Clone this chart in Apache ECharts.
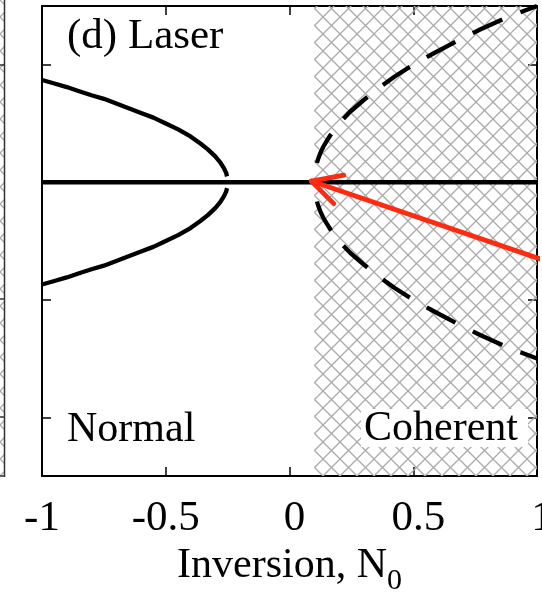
<!DOCTYPE html>
<html><head><meta charset="utf-8">
<script src="https://cdn.jsdelivr.net/npm/echarts@6/dist/echarts.min.js"></script>
<style>html,body{margin:0;padding:0;background:#fff;overflow:hidden}#c{width:542px;height:593px}</style>
</head><body><div id="c"></div>
<script>
// ---- data ----
const xTickValues = [-1, -0.5, 0, 0.5, 1];
const yTickValues = [-2, -1, 0, 1];
const coherentStart = 0.1;          // start of hatched (coherent) region on N0
const baseline = [[-1, 0], [1, 0]];
const normalUpper = [[-1,0.87],[-0.95,0.84],[-0.9,0.81],[-0.85,0.775],[-0.8,0.74],[-0.75,0.71],[-0.7,0.67],[-0.65,0.63],[-0.6,0.59],[-0.55,0.55],[-0.5,0.50],[-0.45,0.45],[-0.4,0.39],[-0.36,0.33],[-0.33,0.28],[-0.3,0.22],[-0.28,0.17],[-0.265,0.12],[-0.256,0.08],[-0.2525,0.05]];
const normalLower = [[-1,-0.87],[-0.95,-0.84],[-0.9,-0.81],[-0.85,-0.775],[-0.8,-0.74],[-0.75,-0.71],[-0.7,-0.67],[-0.65,-0.63],[-0.6,-0.59],[-0.55,-0.55],[-0.5,-0.50],[-0.45,-0.45],[-0.4,-0.39],[-0.36,-0.33],[-0.33,-0.28],[-0.3,-0.22],[-0.28,-0.17],[-0.265,-0.12],[-0.256,-0.08],[-0.2525,-0.05]];
const coherentUpper = [[0.1,0],[0.101,0.05],[0.104,0.1],[0.109,0.15],[0.116,0.2],[0.125,0.25],[0.136,0.3],[0.15,0.35],[0.165,0.4],[0.2,0.5],[0.245,0.6],[0.3,0.7],[0.36,0.8],[0.425,0.9],[0.5,1.0],[0.585,1.1],[0.675,1.2],[0.77,1.3],[0.875,1.4],[1.0,1.5]];
const coherentLower = [[0.1,0],[0.101,-0.05],[0.104,-0.1],[0.109,-0.15],[0.116,-0.2],[0.125,-0.25],[0.136,-0.3],[0.15,-0.35],[0.165,-0.4],[0.2,-0.5],[0.245,-0.6],[0.3,-0.7],[0.36,-0.8],[0.425,-0.9],[0.5,-1.0],[0.585,-1.1],[0.675,-1.2],[0.77,-1.3],[0.875,-1.4],[1.0,-1.5]];
const arrowShaft = [[0.088,0.01],[1.1,-0.715]];
const arrowHead = [[0.219,0.06],[0.088,0.01],[0.179,-0.182]];
const labels = { panel: '(d) Laser', normal: 'Normal', coherent: 'Coherent', xName: 'Inversion, N', xSub: '0' };

// ---- rendering ----
const FONT = '"Liberation Serif", "DejaVu Serif", serif';
function hatchCanvas() {
  const s = 17, c = document.createElement('canvas');
  c.width = s; c.height = s;
  const g = c.getContext('2d');
  g.strokeStyle = '#aaaaaa'; g.lineWidth = 1.3;
  g.beginPath();
  for (const k of [-s, 0, s]) {
    g.moveTo(k - 2, -2); g.lineTo(k + s + 2, s + 2);
    g.moveTo(k + s + 2, -2); g.lineTo(k - 2, s + 2);
  }
  g.stroke();
  return c;
}
const hatch = hatchCanvas();
const hatchFill = { image: hatch, repeat: 'repeat' };

const chart = echarts.init(document.getElementById('c'), null, { renderer: 'canvas' });
const axisLine = { show: true, onZero: false, lineStyle: { color: '#000', width: 2 } };
const tick = { show: true, inside: true, length: 9, lineStyle: { color: '#000', width: 1.5 } };
const line = (data, style, extra) => Object.assign({
  type: 'line', data, showSymbol: false, symbol: 'none', animation: false, silent: true,
  lineStyle: style, z: 3
}, extra || {});
const LW = 4.3;

chart.setOption({
  animation: false,
  grid: { left: 42, right: 5, top: 6, bottom: 117, containLabel: false, outerBoundsMode: 'none' },
  xAxis: [
    { type: 'value', position: 'bottom', min: -1, max: 1, interval: 0.5,
      axisLine, axisTick: tick, splitLine: { show: false },
      axisLabel: { show: true, margin: 21, color: '#000', fontSize: 43, fontFamily: FONT,
        hideOverlap: false,
        formatter: v => (v >= 0 ? '{p|' + String(v) + '}' : '{n|' + String(v) + '}'),
        rich: { p: { fontSize: 43, fontFamily: FONT, color: '#000', padding: [0, 0, 0, 10] },
                n: { fontSize: 43, fontFamily: FONT, color: '#000' } } },
      name: '{a|' + labels.xName + '}{b|' + labels.xSub + '}', nameLocation: 'middle', nameGap: 55,
      nameTextStyle: { color: '#000', fontFamily: FONT,
        rich: { a: { fontSize: 42, fontFamily: FONT, color: '#000' },
                b: { fontSize: 30, fontFamily: FONT, color: '#000', padding: [30, 0, 0, 0] } } }
    },
    { type: 'value', position: 'top', min: -1, max: 1, interval: 0.5,
      axisLine, axisTick: tick, axisLabel: { show: false }, splitLine: { show: false } }
  ],
  yAxis: [
    { type: 'value', position: 'left', min: -2.5, max: 1.5, interval: 0.5,
      axisLine, axisTick: Object.assign({ customValues: yTickValues }, tick),
      axisLabel: { show: false }, splitLine: { show: false } },
    { type: 'value', position: 'right', min: -2.5, max: 1.5, interval: 0.5,
      axisLine, axisTick: Object.assign({ customValues: yTickValues }, tick),
      axisLabel: { show: false }, splitLine: { show: false } }
  ],
  series: [
    { type: 'line', data: [], silent: true, z: 1,
      markArea: { silent: true, itemStyle: { color: hatchFill, borderWidth: 0 },
        data: [[{ xAxis: coherentStart, yAxis: -2.5 }, { xAxis: 1, yAxis: 1.5 }]] } },
    line(baseline, { color: '#000', width: LW }),
    line(normalUpper, { color: '#000', width: LW }),
    line(normalLower, { color: '#000', width: LW }),
    line(coherentUpper, { color: '#000', width: LW, type: [32.5, 19.5], dashOffset: 32.5, cap: 'butt' }),
    line(coherentLower, { color: '#000', width: LW, type: [32.5, 19.5], dashOffset: 32.5, cap: 'butt' }),
    line(arrowShaft, { color: '#ff2b10', width: 4.8, cap: 'round' }, { clip: false, z: 5 }),
    line(arrowHead, { color: '#ff2b10', width: 4.8, cap: 'round', join: 'round' }, { clip: false, z: 5 })
  ],
  graphic: [
    // clipped neighbouring panel at the far left
    { type: 'rect', z: 1, silent: true, shape: { x: 0, y: 0, width: 4.5, height: 476 }, style: { fill: hatchFill } },
    { type: 'line', z: 2, silent: true, shape: { x1: 4.5, y1: 0, x2: 4.5, y2: 477 }, style: { stroke: '#333', lineWidth: 1.5 } },
    { type: 'line', z: 2, silent: true, shape: { x1: 0, y1: 476, x2: 4.5, y2: 476 }, style: { stroke: '#333', lineWidth: 1.5 } },
    { type: 'line', z: 2, silent: true, shape: { x1: 0, y1: 65, x2: 4.5, y2: 65 }, style: { stroke: '#333', lineWidth: 1.5 } },
    { type: 'line', z: 2, silent: true, shape: { x1: 0, y1: 299, x2: 4.5, y2: 299 }, style: { stroke: '#333', lineWidth: 1.5 } },
    { type: 'line', z: 2, silent: true, shape: { x1: 0, y1: 417, x2: 4.5, y2: 417 }, style: { stroke: '#333', lineWidth: 1.5 } },
    // labels
    { type: 'text', z: 10, silent: true, x: 67, y: 37,
      style: { text: labels.panel, font: '43px ' + FONT, fill: '#000', align: 'left', verticalAlign: 'middle', textAlign: 'left', textVerticalAlign: 'middle' } },
    { type: 'text', z: 10, silent: true, x: 67, y: 430,
      style: { text: labels.normal, font: '42px ' + FONT, fill: '#000', align: 'left', verticalAlign: 'middle', textAlign: 'left', textVerticalAlign: 'middle' } },
    { type: 'rect', z: 9, silent: true, shape: { x: 361, y: 409, width: 167, height: 38 }, style: { fill: '#fff' } },
    { type: 'text', z: 10, silent: true, x: 364, y: 429,
      style: { text: labels.coherent, font: '42px ' + FONT, fill: '#000', align: 'left', verticalAlign: 'middle', textAlign: 'left', textVerticalAlign: 'middle' } }
  ]
});
</script>
</body></html>
